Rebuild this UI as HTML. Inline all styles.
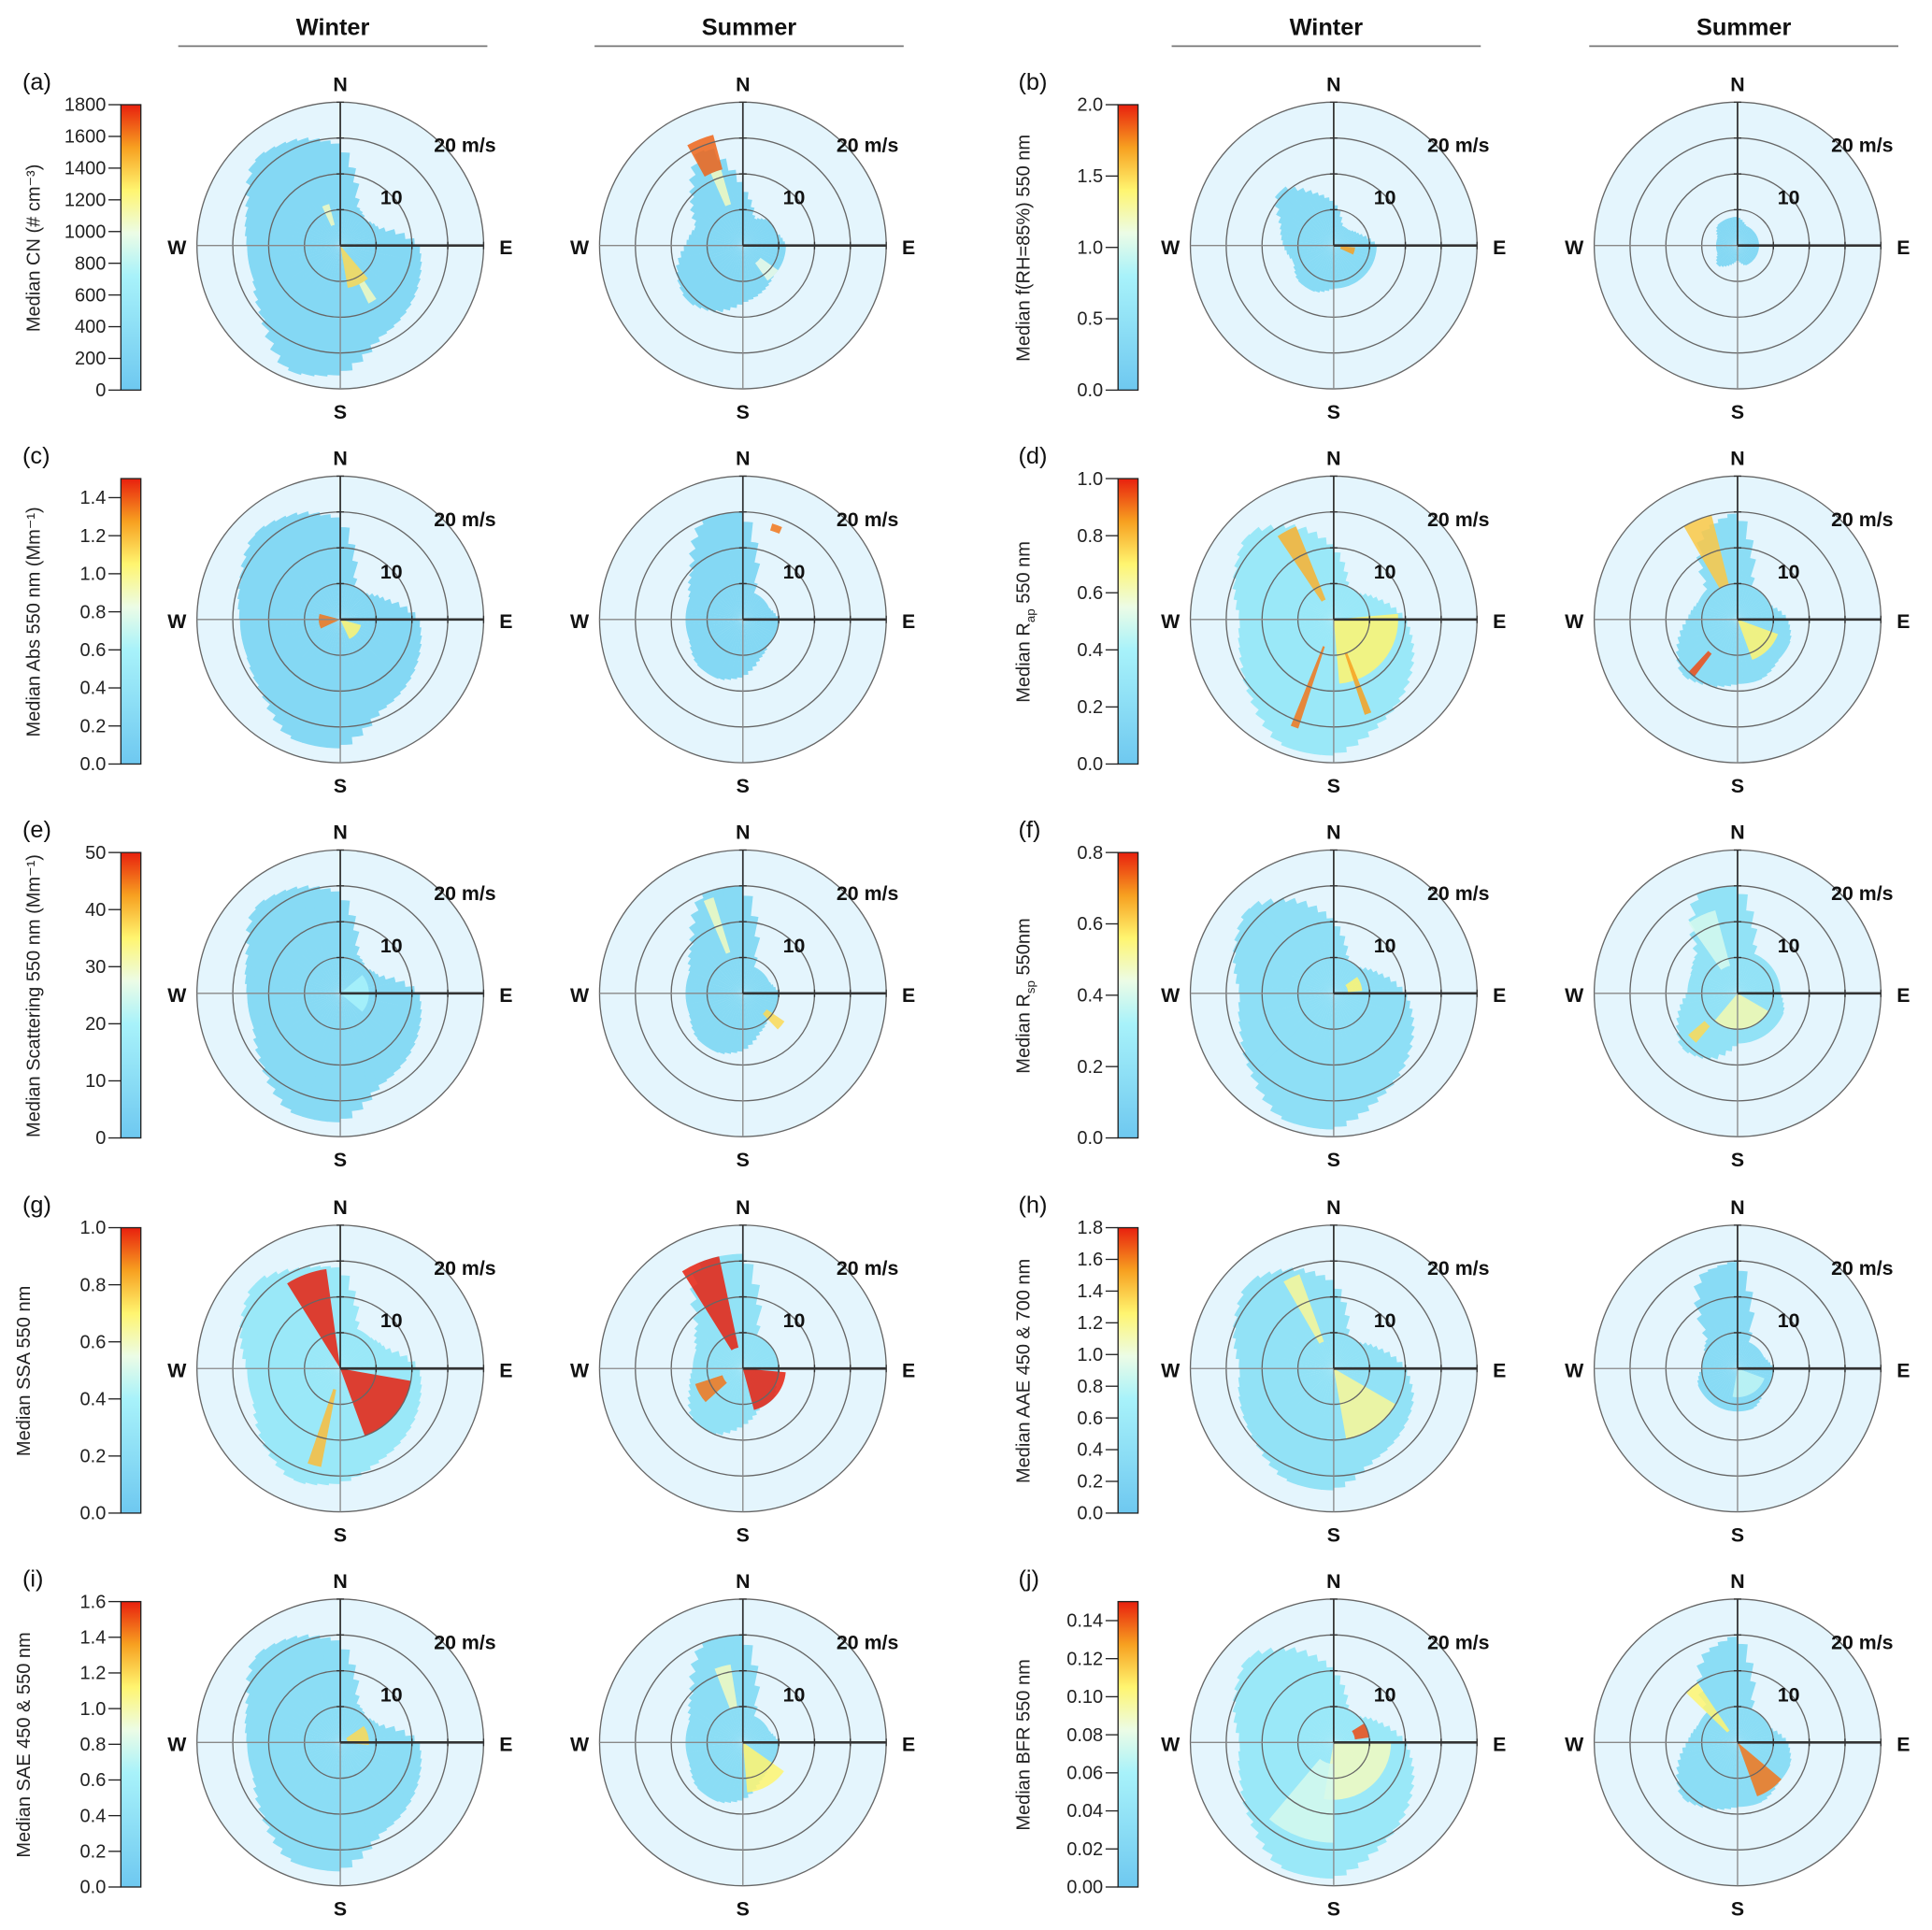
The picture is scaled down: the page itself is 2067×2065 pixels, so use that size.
<!DOCTYPE html>
<html><head><meta charset="utf-8"><style>
html,body{margin:0;padding:0;background:#fff}
svg{display:block}
text{font-family:"Liberation Sans",Arial,sans-serif}
</style></head><body>
<svg id="fig" width="2067" height="2065" viewBox="0 0 1550 1548.5" xmlns="http://www.w3.org/2000/svg"></svg>
<script>
// ---------- data ----------
const panelLetters = ["a","b","c","d","e","f","g","h","i","j"];
const axisTitles = ["Median CN (# cm⁻³)","Median f(RH=85%) 550 nm","Median Abs 550 nm (Mm⁻¹)","Median R_ap 550 nm","Median Scattering 550 nm (Mm⁻¹)","Median R_sp 550nm","Median SSA  550 nm","Median AAE 450 & 700 nm","Median SAE 450 & 550 nm","Median BFR 550 nm"];
const cbMax = [1800,2.0,1.5,1.0,50,0.8,1.0,1.8,1.6,0.15];
const cbTicks = [
 ["0","200","400","600","800","1000","1200","1400","1600","1800"],
 ["0.0","0.5","1.0","1.5","2.0"],
 ["0.0","0.2","0.4","0.6","0.8","1.0","1.2","1.4"],
 ["0.0","0.2","0.4","0.6","0.8","1.0"],
 ["0","10","20","30","40","50"],
 ["0.0","0.2","0.4","0.6","0.8"],
 ["0.0","0.2","0.4","0.6","0.8","1.0"],
 ["0.0","0.2","0.4","0.6","0.8","1.0","1.2","1.4","1.6","1.8"],
 ["0.0","0.2","0.4","0.6","0.8","1.0","1.2","1.4","1.6"],
 ["0.00","0.02","0.04","0.06","0.08","0.10","0.12","0.14"]
];
const seasons = ["Winter","Summer"];
// reach (m/s) in 16 directions, N clockwise; [panel][season]
const reach = [
 [[14,6,5,6,11,12,13,14,18,19,15,13,13,14,17,16],[8,4,5,5,6,6,6,7,8,10,11,10,8,7,10,15]],
 [[6,3,3,4,6,6,6,6,6,7,7,6,7,8,11,8],[4,3,3,3,3,3,3,3,2,3,4,3,3,3,4,4]],
 [[14,5,5,7,11,12,13,14,18,18,15,14,14,15,17,16],[15,4,4,4,5,5,5,6,8,9,9,8,8,8,10,15]],
 [[10,5,5,7,10,12,14,16,19,19,16,14,13,15,17,14],[15,5,5,5,7,8,8,9,9,10,11,9,7,6,6,13]],
 [[14,6,5,6,11,12,13,14,18,18,15,13,13,14,17,16],[15,4,4,4,5,5,5,6,8,9,9,8,8,8,10,15]],
 [[10,5,5,7,10,12,14,16,19,19,16,14,13,15,17,14],[15,6,6,6,6,7,7,7,7,10,11,9,7,7,8,15]],
 [[14,6,6,7,11,12,13,14,16,17,15,13,13,15,17,15],[16,5,5,5,5,5,6,6,8,10,10,8,7,7,9,16]],
 [[12,5,5,7,10,12,13,14,17,17,15,14,13,15,17,15],[15,4,4,4,5,5,5,6,6,6,6,6,5,5,6,14]],
 [[14,6,5,6,11,12,13,14,18,18,15,13,13,14,17,16],[15,4,4,4,5,5,5,6,8,9,9,8,8,8,10,15]],
 [[10,5,5,7,10,12,14,16,19,19,16,14,13,15,17,14],[15,5,5,5,7,8,8,9,9,10,11,9,7,6,6,13]]
];
// base patch value as fraction of colour range
const baseVal = [[0.15,0.15],[0.18,0.15],[0.15,0.15],[0.3,0.2],[0.17,0.17],[0.22,0.25],[0.3,0.25],[0.25,0.18],[0.2,0.2],[0.3,0.2]];
// hotspots: [direction deg, r0 m/s, r1 m/s, half-width deg, value fraction]
const hot = [
 [[[155,0,6,15,0.75],[150,6,9,4,0.6],[340,3,6,5,0.6]],[[338,11,16,7,0.92],[340,6,11,4,0.6],[135,3,6,10,0.55]]],
 [[[105,1,3,10,0.85]],[]],
 [[[265,0,3,20,0.9],[130,0,3,25,0.7]],[[20,13,14,3,0.9]]],
 [[[130,0,9,45,0.7],[332,3,14,6,0.82],[200,4,16,2,0.9],[160,5,14,2,0.85]],[[338,5,15,8,0.78],[135,0,6,25,0.7],[220,6,10,3,0.95]]],
 [[[90,0,4,40,0.4]],[[130,4,7,6,0.75],[340,6,14,3,0.6]]],
 [[[70,2,4,15,0.7]],[[170,0,5,50,0.62],[335,4,12,10,0.5],[225,6,9,5,0.75]]],
 [[[340,0,14,12,1.0],[130,0,10,30,1.0],[195,3,14,4,0.8]],[[338,3,16,10,1.0],[130,0,6,35,1.0],[240,3,7,12,0.9]]],
 [[[145,0,10,25,0.65],[335,4,14,5,0.65]],[[150,0,4,40,0.45]]],
 [[[75,1,4,20,0.75]],[[150,0,7,25,0.7],[345,5,11,6,0.6]]],
 [[[140,0,8,50,0.6],[70,3,5,12,0.95],[200,3,14,20,0.5]],[[145,0,8,15,0.9],[320,2,10,6,0.7]]]
];
// ---------- drawing ----------
const NS="http://www.w3.org/2000/svg";
const svg=document.getElementById('fig');
function mk(tag,attrs,parent){const e=document.createElementNS(NS,tag);for(const k in attrs)e.setAttribute(k,attrs[k]);(parent||svg).appendChild(e);return e;}
const stops=[[0,[110,200,240]],[0.4,[168,242,250]],[0.55,[236,252,230]],[0.7,[255,245,112]],[0.85,[247,160,32]],[1,[232,32,14]]];
function cmap(v){v=Math.max(0,Math.min(1,v));for(let i=1;i<stops.length;i++){if(v<=stops[i][0]){const a=stops[i-1],b=stops[i],t=(v-a[0])/(b[0]-a[0]);const c=a[1].map((x,j)=>Math.round(x+(b[1][j]-x)*t));return `rgb(${c})`;}}return 'rgb(232,32,14)';}
const colX=[273,596,1070,1394], rowY=[197,497,797,1098,1398], R=115, maxS=20;
const rs=s=>s/maxS*R;
function pt(cx,cy,deg,s){const a=deg*Math.PI/180;return [cx+rs(s)*Math.sin(a),cy-rs(s)*Math.cos(a)];}
function wedge(cx,cy,d0,d1,s0,s1){const p1=pt(cx,cy,d0,s1),p2=pt(cx,cy,d1,s1),p3=pt(cx,cy,d1,s0),p4=pt(cx,cy,d0,s0);
 const R1=rs(s1),R0=rs(s0),lg=(d1-d0)>180?1:0;
 return `M${p4}L${p1}A${R1},${R1} 0 ${lg} 1 ${p2}L${p3}`+(R0>0?`A${R0},${R0} 0 ${lg} 0 ${p4}`:'')+'Z';}
[0,2].forEach(g=>{seasons.forEach((s,k)=>{const x=(colX[g+k]+(k?5:-6));
 let t=mk('text',{x:x,y:28,'text-anchor':'middle','font-size':19,'font-weight':'bold',fill:'#111'});t.textContent=s;
 
 let l=mk('line',{x1:x-124,x2:x+124,y1:37,y2:37,stroke:'#777','stroke-width':1.3});
 });});
for(let p=0;p<10;p++){
 const row=Math.floor(p/2), side=p%2, cy=rowY[row];
 const g=mk('g',{});
 const lx=side?817:18;
 let t=mk('text',{x:lx,y:cy-125,'font-size':19,fill:'#111'},g);t.textContent='('+panelLetters[p]+')';
 
 const cbx=side?897:97, cbTop=cy-113, cbBot=cy+116, cbH=cbBot-cbTop;
 const gid='cbg'+p;const defs=mk('defs',{},g);const lg=mk('linearGradient',{id:gid,x1:0,y1:1,x2:0,y2:0},defs);
 stops.forEach(s=>mk('stop',{offset:s[0],'stop-color':cmap(s[0])},lg));
 let cb=mk('rect',{x:cbx,y:cbTop,width:16,height:cbH,fill:`url(#${gid})`,stroke:'#222','stroke-width':1},g);
 
 cbTicks[p].forEach(lab=>{const v=parseFloat(lab)/cbMax[p];const y=cbBot-v*cbH;
  mk('line',{x1:cbx-10,x2:cbx,y1:y,y2:y,stroke:'#222','stroke-width':1},g);
  let tt=mk('text',{x:cbx-12,y:y+5,'text-anchor':'end','font-size':15,fill:'#222'},g);tt.textContent=lab;
  });
 const tx=side?826:(p>=6?24:32);
 let at=mk('text',{x:tx,y:cy+2,'text-anchor':'middle','font-size':15,fill:'#222',transform:`rotate(-90 ${tx} ${cy+2})`},g);
 const title=axisTitles[p];
 if(title.includes('_')){const [a,b]=title.split('_');const [sub,...rest]=b.split(' ');
  at.appendChild(document.createTextNode(a));const ts=mk('tspan',{'font-size':10,dy:4},at);ts.textContent=sub;
  const ts2=mk('tspan',{dy:-4},at);ts2.textContent=' '+rest.join(' ');}
 else at.textContent=title;
 
 for(let k=0;k<2;k++){
  const cx=colX[side*2+k];
  const pg=mk('g',{},g);
  mk('circle',{cx,cy,r:R,fill:'#e4f5fd'},pg);
  const rv=reach[p][k];
  const SUB=4;
  for(let i=0;i<16;i++){for(let j=0;j<SUB;j++){
   const f=j/SUB+0.5/SUB-0.5;const d=i*22.5+f*22.5;
   const i2=f<0?(i+15)%16:(i+1)%16;const af=Math.abs(f);
   const rr=rv[i]*(1-af)+rv[i2]*af;
   let w=mk('path',{d:wedge(cx,cy,d-22.5/SUB/2,d+22.5/SUB/2+0.3,0,rr),fill:cmap(baseVal[p][k])},pg);
   }}
  hot[p][k].forEach(h=>{let w=mk('path',{d:wedge(cx,cy,h[0]-h[3],h[0]+h[3],h[1],h[2]),fill:cmap(h[4]),opacity:0.85},pg);
   });
  [5,10,15,20].forEach(s=>mk('circle',{cx,cy,r:rs(s),fill:'none',stroke:'#666','stroke-width':1},pg));
  mk('line',{x1:cx,x2:cx,y1:cy-R,y2:cy+R,stroke:'#888','stroke-width':1},pg);
  mk('line',{x1:cx-R,x2:cx,y1:cy,y2:cy,stroke:'#888','stroke-width':1},pg);
  mk('line',{x1:cx,x2:cx+R,y1:cy,y2:cy,stroke:'#333','stroke-width':2},pg);
  mk('line',{x1:cx,x2:cx,y1:cy-R,y2:cy,stroke:'#333','stroke-width':1.3},pg);
  [5,10,15,20].forEach(s=>{mk('line',{x1:cx+rs(s),x2:cx+rs(s),y1:cy-3,y2:cy+3,stroke:'#333'},pg);mk('line',{x1:cx-3,x2:cx+3,y1:cy-rs(s),y2:cy-rs(s),stroke:'#333'},pg);});
  [['N',cx,cy-124],['S',cx,cy+139],['W',cx-131,cy+7],['E',cx+133,cy+7],['20 m/s',cx+100,cy-75],['10',cx+41,cy-33]].forEach(l=>{
   let lt=mk('text',{x:l[1],y:l[2],'text-anchor':'middle','font-size':16,'font-weight':'bold',fill:'#111'},pg);lt.textContent=l[0];
   });
 }
}
</script>
</body></html>
